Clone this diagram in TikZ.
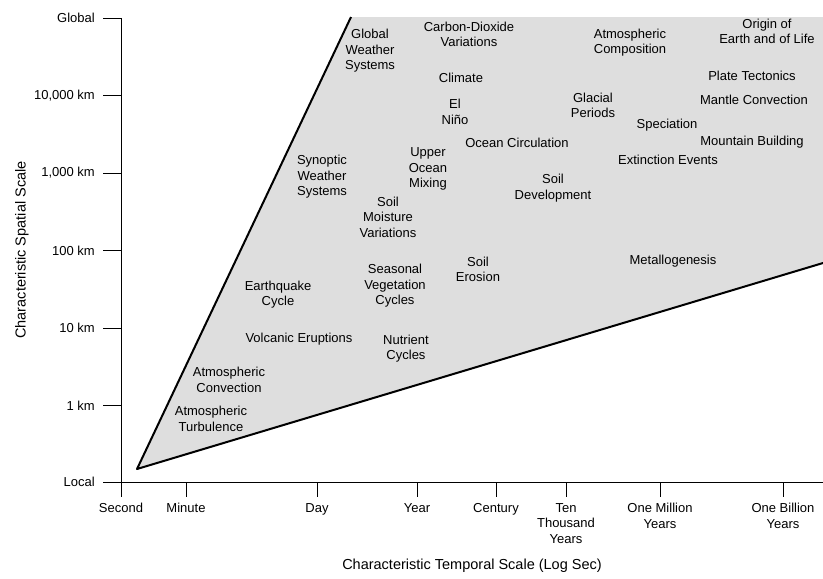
\documentclass[tikz,border=0pt]{standalone}
\usepackage{fontspec}
\setmainfont{Liberation Sans}
\usetikzlibrary{positioning}

\begin{document}
\begin{tikzpicture}[
        x=1pt, y=-1pt,
        lbl/.style={
                align=center,
                inner sep=0pt,
                font=\fontsize{13}{15.5}\selectfont
            },
        axtitle/.style={
                inner sep=0pt,
                font=\fontsize{14.5}{17}\selectfont
            },
        axisline/.style={line width=0.9pt},
        edge/.style={line width=2pt, line join=round}
    ]
    \useasboundingbox (0,0) rectangle (823,579);

    % shaded region of processes
    \fill[black!13] (137,469) -- (351,17) -- (823,17) -- (823,263) -- cycle;
    \draw[edge] (823,263) -- (137,469) -- (351,17);

    % axes
    \draw[axisline] (103,18) -- (121,18) -- (121,497);
    \draw[axisline] (106,482) -- (823,482);

    \foreach \y/\lab [count=\i] in {18/Global, 95.5/{10,000 km}, 173/{1,000 km},
            250.5/100 km, 328/10 km, 405.5/1 km, 482/Local} {
            \draw[axisline] (103,\y) -- (121,\y);
            \node[lbl, anchor=east] (yt\i) at (95,\y) {\lab};
        }

    \foreach \x/\lab [count=\i] in {121/Second, 186/Minute, 317/Day, 417/Year,
            496/Century, 566/{Ten\\Thousand\\Years}, 660/{One Million\\Years},
            783/{One Billion\\Years}} {
            \draw[axisline] (\x,482) -- (\x,497);
            \node[lbl, anchor=north] (xt\i) at (\x,503) {\lab};
        }

    \node[axtitle, rotate=90] (ytitle) at (22,250) {Characteristic Spatial Scale};
    \node[axtitle] (xtitle) at (472,566) {Characteristic Temporal Scale (Log Sec)};

    % processes
    \node[lbl] (globalweather) at (370,51) {Global\\Weather\\Systems};
    \node[lbl] (carbon) at (469,34.5) {Carbon-Dioxide\\Variations};
    \node[lbl] (climate) at (461,78) {Climate};
    \node[lbl] (elnino) at (455,112) {El\\Niño};
    \node[lbl] (atmcomp) at (630,42.5) {Atmospheric\\Composition};
    \node[lbl] (origin) at (767,31.5) {Origin of\\Earth and of Life};
    \node[lbl] (plate) at (752,76) {Plate Tectonics};
    \node[lbl] (mantle) at (754,100) {Mantle Convection};
    \node[lbl] (glacial) at (593,105.5) {Glacial\\Periods};
    \node[lbl] (speciation) at (667,125) {Speciation};
    \node[lbl] (mountain) at (752,142) {Mountain Building};
    \node[lbl] (ocean) at (517,143) {Ocean Circulation};
    \node[lbl] (extinction) at (668,160) {Extinction Events};
    \node[lbl] (mixing) at (428,169) {Upper\\Ocean\\Mixing};
    \node[lbl] (soildev) at (553,188) {Soil\\Development};
    \node[lbl] (synoptic) at (322,177) {Synoptic\\Weather\\Systems};
    \node[lbl] (moisture) at (388,217) {Soil\\Moisture\\Variations};
    \node[lbl] (erosion) at (478,269.5) {Soil\\Erosion};
    \node[lbl] (metal) at (673,261) {Metallogenesis};
    \node[lbl] (vegetation) at (395,286) {Seasonal\\Vegetation\\Cycles};
    \node[lbl] (quake) at (278,294.5) {Earthquake\\Cycle};
    \node[lbl] (volcanic) at (299,339) {Volcanic Eruptions};
    \node[lbl] (nutrient) at (406,348.5) {Nutrient\\Cycles};
    \node[lbl] (convection) at (229,380) {Atmospheric\\Convection};
    \node[lbl] (turbulence) at (211,419) {Atmospheric\\Turbulence};
\end{tikzpicture}
\end{document}
